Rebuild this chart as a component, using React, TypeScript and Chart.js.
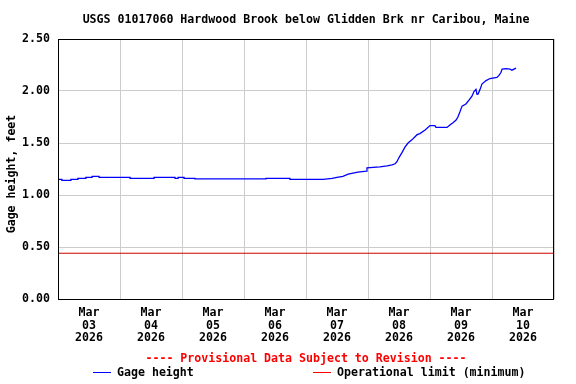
import React, { useEffect, useRef } from "react";
import { Chart, registerables } from "chart.js";

Chart.register(...registerables);

const TITLE = "USGS 01017060 Hardwood Brook below Glidden Brk nr Caribou, Maine";
const Y_TITLE = "Gage height, feet";
const PROVISIONAL = "---- Provisional Data Subject to Revision ----";
const SERIES_NAMES = ["Gage height", "Operational limit (minimum)"];

// hours since Mar 03 2026 00:00 (repeated hours mark a level step)
const gageHours = [
  0, 1.5, 1.5, 5.0, 5.0, 7.7, 7.7, 10.8, 10.8, 13.2, 13.2, 15.9, 15.9, 27.9, 27.9,
  37.2, 37.2, 45.3, 45.3, 46.5, 46.5, 48.8, 48.8, 53.0, 53.0, 80.5, 80.5, 89.8, 89.8,
  102.6, 106.1, 108.0, 110.3, 112.3, 114.2, 116.1, 119.4, 119.6, 124.6, 127.4, 129.3,
  130.5, 131.2, 132.0, 133.2, 134.3, 135.5, 137.0, 139.0, 140.1, 142.1, 144.0, 145.9,
  146.3, 148.3, 150.6, 151.7, 152.9, 154.1, 154.8, 155.6, 156.4, 157.9, 159.1, 160.3,
  161.0, 161.8, 162.2, 162.6, 163.4, 164.1, 165.7, 167.2, 169.9, 170.7, 171.5, 171.9,
  173.4, 175.0, 175.7, 177.3,
];
const gageValues = [
  1.15, 1.15, 1.14, 1.14, 1.15, 1.15, 1.16, 1.16, 1.17, 1.17, 1.18, 1.18, 1.17, 1.17, 1.16,
  1.16, 1.17, 1.17, 1.16, 1.16, 1.17, 1.17, 1.16, 1.16, 1.155, 1.155, 1.16, 1.16, 1.15,
  1.15, 1.16, 1.17, 1.18, 1.2, 1.21, 1.22, 1.23, 1.26, 1.27, 1.28, 1.29,
  1.3, 1.32, 1.36, 1.41, 1.46, 1.5, 1.53, 1.58, 1.59, 1.625, 1.667, 1.667,
  1.65, 1.65, 1.65, 1.673, 1.695, 1.72, 1.75, 1.8, 1.855, 1.875, 1.913, 1.952,
  1.994, 2.016, 1.968, 1.97, 2.016, 2.067, 2.1, 2.12, 2.13, 2.15, 2.18, 2.21,
  2.215, 2.21, 2.2, 2.22,
];
const limitHours = [0, 192];
const limitValues = [0.44, 0.44];

const dayLabels = ["03", "04", "05", "06", "07", "08", "09", "10"];
const monthLabel = "Mar";
const yearLabel = "2026";
const yTicks = [0, 0.5, 1.0, 1.5, 2.0, 2.5];

const FONT = "'DejaVu Sans Mono', monospace";

export default function App() {
  const ref = useRef<HTMLCanvasElement | null>(null);

  useEffect(() => {
    document.body.style.margin = "0";
    const canvas = ref.current;
    if (!canvas) return;

    const textPlugin = {
      id: "usgsText",
      afterDraw(chart: any) {
        const ctx = chart.ctx;
        const a = chart.chartArea;
        ctx.save();
        ctx.strokeStyle = "#000";
        ctx.lineWidth = 1;
        ctx.strokeRect(Math.round(a.left) + 0.5, Math.round(a.top) + 0.5, Math.round(a.right - a.left) - 1, Math.round(a.bottom - a.top));
        ctx.fillStyle = "#000";
        ctx.font = `bold 11.6px ${FONT}`;
        ctx.textAlign = "center";
        ctx.textBaseline = "middle";
        ctx.fillText(TITLE, (a.left + a.right) / 2, 20);
        ctx.save();
        ctx.translate(12, 174);
        ctx.rotate(-Math.PI / 2);
        ctx.fillText(Y_TITLE, 0, 0);
        ctx.restore();
        ctx.fillStyle = "#ff0000";
        ctx.fillText(PROVISIONAL, (a.left + a.right) / 2, 359);
        ctx.textAlign = "left";
        ctx.fillStyle = "#000";
        ctx.fillText(SERIES_NAMES[0], 117, 373);
        ctx.fillText(SERIES_NAMES[1], 337, 373);
        ctx.lineWidth = 1;
        ctx.strokeStyle = "#0000ff";
        ctx.beginPath();
        ctx.moveTo(93, 372.5);
        ctx.lineTo(111, 372.5);
        ctx.stroke();
        ctx.strokeStyle = "#ff0000";
        ctx.beginPath();
        ctx.moveTo(313, 372.5);
        ctx.lineTo(331, 372.5);
        ctx.stroke();
        ctx.restore();
      },
    };

    const chart = new Chart(canvas, {
      type: "line",
      data: {
        datasets: [
          {
            label: SERIES_NAMES[0],
            data: gageHours.map((h, i) => ({ x: h, y: gageValues[i] })),
            borderColor: "#0000ff",
            borderWidth: 1.3,
            pointRadius: 0,
            tension: 0,
            xAxisID: "x",
            yAxisID: "y",
          },
          {
            label: SERIES_NAMES[1],
            data: limitHours.map((h, i) => ({ x: h, y: limitValues[i] })),
            borderColor: "#cc0000",
            borderWidth: 1,
            pointRadius: 0,
            xAxisID: "x",
            yAxisID: "y",
          },
        ],
      },
      options: {
        animation: false,
        responsive: false,
        maintainAspectRatio: false,
        layout: { padding: { left: 0, top: 39, right: 22, bottom: 35 } },
        plugins: {
          legend: { display: false },
          title: { display: false },
          tooltip: { enabled: false },
        },
        scales: {
          x: {
            type: "linear",
            position: "bottom",
            weight: 0,
            min: 0,
            max: 192,
            ticks: { display: false, stepSize: 24 },
            grid: { color: "#cccccc", drawTicks: false, lineWidth: 1 },
            border: { display: false },
            afterFit(scale: any) {
              scale.height = 0;
            },
          },
          xl: {
            type: "linear",
            position: "bottom",
            weight: 1,
            min: 0,
            max: 192,
            afterBuildTicks(scale: any) {
              scale.ticks = dayLabels.map((_, i) => ({ value: 12 + i * 24 }));
            },
            ticks: {
              autoSkip: false,
              maxRotation: 0,
              padding: 7,
              color: "#000",
              font: { family: FONT, size: 11.6, weight: "bold", lineHeight: 1.12 },
              callback(value: any) {
                const i = Math.round((Number(value) - 12) / 24);
                return [monthLabel, dayLabels[i], yearLabel];
              },
            },
            grid: { display: false, drawTicks: false },
            border: { display: false },
            afterFit(scale: any) {
              scale.height = 50;
            },
          },
          y: {
            type: "linear",
            min: 0,
            max: 2.5,
            afterBuildTicks(scale: any) {
              scale.ticks = yTicks.map((v) => ({ value: v }));
            },
            ticks: {
              padding: 8,
              color: "#000",
              font: { family: FONT, size: 11.6, weight: "bold" },
              callback(value: any) {
                return Number(value).toFixed(2);
              },
            },
            grid: { color: "#cccccc", drawTicks: false, lineWidth: 1 },
            border: { display: false },
            afterFit(scale: any) {
              scale.width = 58;
            },
          },
        },
      },
      plugins: [textPlugin],
    });

    return () => chart.destroy();
  }, []);

  return (
    <div style={{ width: 576, height: 384 }}>
      <canvas ref={ref} width={576} height={384} style={{ width: 576, height: 384, display: "block" }} />
    </div>
  );
}
